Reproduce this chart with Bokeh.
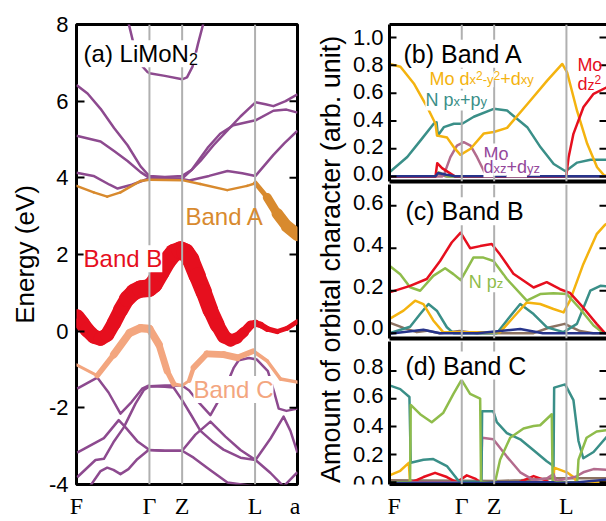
import numpy as np
from bokeh.plotting import figure
from bokeh.models import (Span, Label, LabelSet, LinearAxis, FixedTicker, CustomJSTickFormatter,
                          PrintfTickFormatter, ColumnDataSource, Range1d)
from bokeh.layouts import row, column
from bokeh.embed import file_html
from bokeh.resources import INLINE
from bokeh.core.properties import value

# ---------------- data ----------------
k_labels = ["F", "Γ", "Z", "L", "a"]
k_ticks = [0.0, 0.330, 0.478, 0.808, 1.0]
e_ticks = [-4, -2, 0, 2, 4, 6, 8]

# purple (other) bands: k, E
t0_k = [0.235, 0.258, 0.281, 0.321, 0.33, 0.40, 0.478, 0.50, 0.525, 0.55, 0.575]
t0_e = [8.05, 7.5, 7.02, 6.76, 6.73, 6.66, 6.57, 6.62, 6.9, 7.5, 8.05]
u1_k = [0.0, 0.05, 0.109, 0.17, 0.231, 0.29, 0.321, 0.33, 0.40, 0.478, 0.52, 0.561, 0.62, 0.683, 0.742, 0.81, 0.855, 0.891, 0.946, 1.0]
u1_e = [6.42, 6.2, 5.8, 5.3, 4.85, 4.3, 4.1, 4.05, 4.02, 4.05, 4.2, 4.44, 4.85, 5.24, 5.6, 5.97, 5.92, 5.87, 6.0, 6.18]
u2_k = [0.0, 0.109, 0.17, 0.231, 0.29, 0.33, 0.40, 0.478, 0.52, 0.593, 0.65, 0.71, 0.81, 0.891, 0.95, 1.0]
u2_e = [5.1, 4.95, 4.7, 4.44, 4.15, 4.0, 3.98, 3.98, 4.2, 4.78, 5.15, 5.37, 5.5, 5.75, 5.78, 5.7]
u3_k = [0.0, 0.077, 0.15, 0.186, 0.25, 0.321, 0.33, 0.40, 0.478, 0.51, 0.60, 0.683, 0.75, 0.81, 0.891, 0.94, 1.0]
u3_e = [4.13, 4.05, 3.82, 3.72, 3.82, 3.97, 4.0, 3.97, 3.97, 3.93, 4.05, 4.18, 4.12, 4.05, 4.6, 4.9, 5.23]
p5_k = [0.003, 0.094, 0.145, 0.199, 0.249, 0.297, 0.326, 0.33, 0.40, 0.478, 0.51, 0.546, 0.606, 0.652, 0.69, 0.712, 0.734, 0.78, 0.816, 0.866, 0.895, 0.915, 0.95, 1.0]
p5_e = [-1.50, -1.21, -1.6, -2.15, -1.85, -1.50, -1.42, -1.44, -1.42, -1.42, -1.55, -1.81, -2.19, -1.72, -1.25, -0.95, -0.76, -0.7, -0.74, -1.04, -1.6, -2.02, -2.08, -2.02]
p6_k = [0.003, 0.124, 0.191, 0.222, 0.275, 0.327, 0.33, 0.40, 0.478, 0.538, 0.606, 0.674, 0.742, 0.81, 0.878, 0.937, 0.968, 1.0]
p6_e = [-3.17, -2.79, -2.32, -2.51, -2.87, -3.09, -3.1, -3.12, -3.12, -2.7, -2.36, -2.75, -3.1, -3.36, -2.8, -2.23, -2.6, -3.17]
p7_k = [0.003, 0.086, 0.124, 0.167, 0.214, 0.267, 0.305, 0.33, 0.40, 0.439, 0.478, 0.52, 0.561, 0.62, 0.665, 0.742, 0.81, 0.878, 0.937, 1.0]
p7_e = [-3.81, -3.36, -3.33, -2.9, -2.51, -1.89, -1.53, -1.44, -1.45, -1.47, -1.8, -2.2, -2.6, -2.9, -3.09, -3.3, -3.36, -3.7, -4.05, -3.68]
p8_k = [0.045, 0.063, 0.109, 0.139, 0.167, 0.199, 0.235, 0.275, 0.326, 0.33, 0.40, 0.478, 0.53, 0.60, 0.683, 0.81, 0.88]
p8_e = [-4.2, -4.03, -3.65, -3.56, -3.62, -3.73, -3.6, -3.34, -3.1, -3.1, -3.12, -3.12, -3.3, -3.6, -3.95, -4.05, -4.2]

# fat bands: k, E, orbital weight
bandA_k = [0.0, 0.078, 0.139, 0.199, 0.29, 0.33, 0.478, 0.56, 0.682, 0.772, 0.81, 0.863, 0.908, 0.953, 1.0]
bandA_e = [3.79, 3.62, 3.51, 3.62, 3.92, 3.95, 3.94, 3.84, 3.68, 3.79, 3.86, 3.49, 3.07, 2.73, 2.51]
bandA_w = [0, 0, 0, 0, 0, 0, 0, 0, 0, 0, 0.0, 0.3, 0.5, 0.6, 0.65]
bandB_k = [0.003, 0.026, 0.048, 0.078, 0.109, 0.139, 0.169, 0.199, 0.229, 0.259, 0.29, 0.327,
           0.35, 0.38, 0.41, 0.44, 0.471, 0.493, 0.516, 0.546, 0.576, 0.606, 0.637, 0.667,
           0.697, 0.727, 0.757, 0.787, 0.81, 0.833, 0.863, 0.908, 0.953, 0.998]
bandB_e = [0.376, 0.205, 0.034, -0.137, -0.197, -0.094, 0.205, 0.547, 0.846, 1.017, 1.102, 1.12,
           1.23, 1.53, 1.83, 2.042, 2.11, 2.06, 1.871, 1.444, 1.017, 0.547, 0.162, -0.137,
           -0.24, -0.18, -0.026, 0.162, 0.205, 0.162, 0.06, -0.009, 0.077, 0.247]
bandB_w = [0.39, 0.39, 0.38, 0.37, 0.36, 0.36, 0.37, 0.39, 0.41, 0.44, 0.46, 0.48,
           0.48, 0.48, 0.48, 0.48, 0.48, 0.48, 0.47, 0.45, 0.43, 0.41, 0.38, 0.34,
           0.30, 0.27, 0.23, 0.18, 0.14, 0.12, 0.10, 0.08, 0.07, 0.07]
bandC_k = [0.0, 0.094, 0.169, 0.24, 0.29, 0.33, 0.373, 0.41, 0.44, 0.478, 0.51, 0.53, 0.59, 0.666, 0.727, 0.80, 0.863, 0.923, 1.0]
bandC_e = [-0.88, -1.16, -0.61, -0.05, 0.08, 0.06, -0.35, -1.04, -1.38, -1.42, -1.29, -0.95, -0.59, -0.61, -0.69, -0.52, -0.78, -1.25, -1.33]
bandC_w = [0.0, 0.1, 0.5, 0.55, 0.6, 0.55, 0.5, 0.4, 0.2, 0.0, 0.1, 0.3, 0.4, 0.45, 0.45, 0.15, 0.1, 0.1, 0.1]

# (b) Band A orbital character
b_gold_k = [0.0, 0.05, 0.111, 0.172, 0.21, 0.217, 0.263, 0.294, 0.324, 0.37, 0.431, 0.476, 0.537, 0.629, 0.72, 0.789, 0.811, 0.857, 0.903, 0.948, 0.979, 1.0]
b_gold_v = [0.81, 0.79, 0.67, 0.50, 0.38, 0.295, 0.28, 0.21, 0.156, 0.20, 0.31, 0.32, 0.35, 0.52, 0.69, 0.81, 0.75, 0.47, 0.235, 0.067, 0.01, 0.0]
b_teal_k = [0.0, 0.081, 0.142, 0.202, 0.215, 0.221, 0.248, 0.294, 0.332, 0.385, 0.476, 0.537, 0.629, 0.69, 0.75, 0.804, 0.857, 0.918, 1.0]
b_teal_v = [0.03, 0.14, 0.26, 0.38, 0.39, 0.295, 0.355, 0.38, 0.38, 0.43, 0.487, 0.475, 0.355, 0.21, 0.09, 0.038, 0.10, 0.12, 0.12]
b_mauve_k = [0.0, 0.24, 0.248, 0.278, 0.308, 0.339, 0.37, 0.4, 0.43, 0.445, 1.0]
b_mauve_v = [0, 0, 0.01, 0.139, 0.223, 0.247, 0.223, 0.139, 0.043, 0.0, 0]
b_red_k = [0.0, 0.21, 0.218, 0.24, 0.27, 0.3, 0.807, 0.818, 0.84, 0.886, 0.932, 0.99, 1.0]
b_red_v = [0, 0, 0.096, 0.06, 0.03, 0.0, 0.0, 0.139, 0.307, 0.5, 0.595, 0.64, 0.645]
b_green_k = [0.0, 0.21, 0.225, 0.27, 1.0]
b_green_v = [0, 0, 0.03, 0, 0]
b_brown_k = [0.0, 0.21, 0.222, 0.26, 1.0]
b_brown_v = [0, 0, 0.02, 0.0, 0]
b_navy_k = [0.0, 0.21, 0.222, 0.26, 0.3, 1.0]
b_navy_v = [0.002, 0.002, 0.025, 0.012, 0.002, 0.002]

# (c) Band B orbital character
c_red_k = [0.0, 0.094, 0.17, 0.231, 0.284, 0.325, 0.368, 0.414, 0.467, 0.505, 0.566, 0.658, 0.718, 0.779, 0.824, 0.885, 0.946, 0.984, 1.0]
c_red_v = [0.192, 0.223, 0.255, 0.34, 0.427, 0.473, 0.40, 0.41, 0.42, 0.37, 0.28, 0.215, 0.24, 0.207, 0.19, 0.12, 0.044, 0.0, 0.0]
c_green_k = [0.0, 0.049, 0.094, 0.14, 0.2, 0.254, 0.292, 0.325, 0.353, 0.383, 0.429, 0.475, 0.536, 0.627, 0.688, 0.749, 0.81, 0.871, 0.932, 0.978, 1.0]
c_green_v = [0.317, 0.278, 0.216, 0.2, 0.27, 0.306, 0.278, 0.25, 0.30, 0.356, 0.356, 0.34, 0.255, 0.153, 0.184, 0.1875, 0.184, 0.114, 0.036, 0.0, 0.0]
c_gold_k = [0.0, 0.064, 0.117, 0.155, 0.2, 0.245, 0.505, 0.566, 0.627, 0.688, 0.749, 0.795, 0.824, 0.885, 0.946, 0.984, 1.0]
c_gold_v = [0.067, 0.106, 0.153, 0.137, 0.06, 0.005, 0.005, 0.075, 0.145, 0.1375, 0.114, 0.098, 0.153, 0.325, 0.466, 0.51, 0.52]
c_teal_k = [0.0, 0.094, 0.14, 0.178, 0.216, 0.262, 0.292, 0.49, 0.536, 0.597, 0.658, 0.718, 0.795, 0.856, 0.917, 0.963, 1.0]
c_teal_v = [0.0, 0.03, 0.09, 0.1375, 0.106, 0.028, 0.0, 0.0, 0.06, 0.1375, 0.09, 0.028, 0.005, 0.044, 0.2, 0.223, 0.22]
c_brown_k = [0.0, 0.064, 0.125, 0.17, 0.23, 0.32, 0.4, 0.658, 0.734, 0.8, 0.87, 0.93, 1.0]
c_brown_v = [0.05, 0.025, 0.005, 0.012, 0.0, 0.01, 0.0, 0.0, 0.028, 0.044, 0.01, 0.0, 0.0]
c_navy_k = [0.0, 0.155, 0.23, 0.4, 0.597, 0.7, 1.0]
c_navy_v = [-0.003, 0.016, 0.0, 0.0, 0.02, 0.0, 0.0]

# (d) Band C orbital character
d_teal_k = [0.0, 0.049, 0.091, 0.097, 0.155, 0.2, 0.262, 0.307, 0.32, 0.42, 0.423, 0.474, 0.49, 0.536, 0.597, 0.658, 0.718, 0.749, 0.752, 0.802, 0.84, 0.863, 0.885, 0.932, 1.0]
d_teal_v = [0.696, 0.669, 0.613, 0.14, 0.162, 0.167, 0.117, 0.027, 0.004, 0.004, 0.511, 0.511, 0.432, 0.354, 0.309, 0.23, 0.151, 0.117, 0.68, 0.703, 0.59, 0.297, 0.173, 0.218, 0.342]
d_green_k = [0.0, 0.094, 0.097, 0.14, 0.193, 0.246, 0.292, 0.329, 0.368, 0.414, 0.418, 0.482, 0.505, 0.551, 0.612, 0.658, 0.688, 0.741, 0.745, 0.857, 0.863, 0.9, 0.946, 1.0]
d_green_v = [0, 0, 0.556, 0.489, 0.432, 0.5, 0.635, 0.736, 0.635, 0.601, 0, 0, 0.162, 0.32, 0.387, 0.405, 0.41, 0.489, 0, 0, 0.162, 0.32, 0.365, 0.376]
d_gold_k = [0.0, 0.049, 0.088, 0.094, 0.749, 0.752, 0.81, 0.84, 0.857, 1.0]
d_gold_v = [0.05, 0.083, 0.14, 0.0, 0.0, 0.106, 0.072, 0.038, 0.0, 0.0]
d_red_k = [0.0, 0.1, 0.155, 0.208, 0.262, 0.307, 0.353, 0.391, 0.414, 0.59, 0.658, 0.71, 0.73, 1.0]
d_red_v = [0, 0, 0.038, 0.068, 0.038, 0.0, 0.05, 0.027, 0.0, 0.0, 0.045, 0.016, 0.0, 0.0]
d_mauve_k = [0.0, 0.418, 0.423, 0.474, 0.536, 0.597, 0.658, 0.718, 0.749, 0.76, 0.85, 0.885, 0.932, 1.0]
d_mauve_v = [0, 0, 0.32, 0.309, 0.185, 0.072, 0.016, 0.027, 0.06, 0.01, 0.04, 0.072, 0.095, 0.09]
d_brown_k = [0.0, 0.5, 0.6, 0.749, 1.0]
d_brown_v = [0.015, 0.01, 0.015, 0.03, 0.03]
d_navy_k = [0.0, 0.42, 0.5, 0.75, 0.76, 0.86, 1.0]
d_navy_v = [-0.005, -0.005, 0.0, 0.0, -0.005, 0.0, 0.02]

b_ticks = [0, 0.2, 0.4, 0.6, 0.8, 1.0]
c_ticks = [0, 0.2, 0.4, 0.6]
d_ticks = [0, 0.2, 0.4, 0.6, 0.8]

# ---------------- styles ----------------
FONT = "Liberation Sans"
SERIF = "Liberation Serif"
PURPLE = "#8d4a8f"
ORANGE = "#d88a2e"
RED = "#e60f1e"
SALMON = "#f3a67f"
GOLD = "#f4b30f"
TEAL = "#3a8f88"
GREEN = "#8fbc4b"
MAUVE = "#b36b8d"
BROWN = "#8c7262"
NAVY = "#27348b"
LBL_PURPLE = "#93479b"
GRAY = "#b0b0b0"

W = {' ': .278, '(': .333, ')': .333, '+': .584, '-': .333, '.': .278, 'A': .667, 'B': .667,
     'C': .722, 'L': .556, 'M': .833, 'N': .722, 'a': .556, 'b': .556, 'c': .5, 'd': .556,
     'i': .222, 'n': .556, 'o': .556, 'p': .556, 'x': .5, 'y': .5, 'z': .5}


def twidth(s, size):
    return sum(W.get(ch, 0.556) for ch in s) * size


def rich(p, x, y, pieces, color, bg=None):
    off = 0.0
    for txt, size, dy in pieces:
        p.add_layout(Label(x=x, y=y, x_offset=off, y_offset=dy, text=txt,
                           text_font=FONT, text_font_size=f"{size}px", text_color=color,
                           text_align="left", text_baseline="alphabetic",
                           background_fill_color=bg))
        off += twidth(txt, size)


def fat(p, k, e, w, color, base, scale):
    k = np.asarray(k, float); e = np.asarray(e, float); w = np.asarray(w, float)
    src = ColumnDataSource(dict(x0=k[:-1], y0=e[:-1], x1=k[1:], y1=e[1:],
                                lw=base + scale * (w[:-1] + w[1:]) / 2))
    p.segment('x0', 'y0', 'x1', 'y1', source=src, line_width='lw', line_color=color,
              line_cap='round')


def inner_ticks(p, x, ticks, length, angle):
    p.ray(x=[x] * len(ticks), y=ticks, length=length, length_units="screen",
          angle=angle, line_color="black", line_width=2)


def kformatter():
    return CustomJSTickFormatter(args=dict(labels=k_labels, tv=k_ticks), code="""
        let b = 0;
        for (let j = 0; j < tv.length; j++) { if (Math.abs(tv[j]-tick) < Math.abs(tv[b]-tick)) b = j; }
        return labels[b];
    """)

# ---------------- panel (a) ----------------
TOP, BOT = 24, 29
pa = figure(width=300, height=521, x_range=Range1d(0, 1), y_range=Range1d(-4, 8),
            output_backend="svg", toolbar_location=None,
            min_border_left=76, min_border_right=3, min_border_top=TOP, min_border_bottom=BOT)
pa.grid.visible = False
pa.outline_line_color = "black"
pa.outline_line_width = 3
pa.yaxis.ticker = FixedTicker(ticks=e_ticks)
pa.yaxis.formatter = PrintfTickFormatter(format="%d")
pa.yaxis.major_tick_in = 8
pa.yaxis.major_tick_out = 0
pa.yaxis.major_tick_line_width = 2
pa.yaxis.minor_tick_line_color = None
pa.yaxis.axis_line_color = None
pa.yaxis.major_label_text_font = FONT
pa.yaxis.major_label_text_font_size = "22px"
pa.yaxis.major_label_text_color = "black"
pa.yaxis.major_label_standoff = 8
pa.yaxis.axis_label = "Energy (eV)"
pa.yaxis.axis_label_text_font = FONT
pa.yaxis.axis_label_text_font_size = "26px"
pa.yaxis.axis_label_text_font_style = "normal"
pa.yaxis.axis_label_text_color = "black"
pa.yaxis.axis_label_standoff = 6
pa.xaxis.ticker = FixedTicker(ticks=k_ticks)
pa.xaxis.formatter = kformatter()
pa.xaxis.major_tick_line_color = None
pa.xaxis.minor_tick_line_color = None
pa.xaxis.axis_line_color = None
pa.xaxis.major_label_text_font = SERIF
pa.xaxis.major_label_text_font_size = "24px"
pa.xaxis.major_label_text_color = "black"
pa.xaxis.major_label_standoff = 2

for t in k_ticks[1:4]:
    pa.add_layout(Span(location=t, dimension="height", line_color=GRAY, line_width=2))

for kk, ee in [(t0_k, t0_e), (u1_k, u1_e), (u2_k, u2_e), (u3_k, u3_e), (p5_k, p5_e),
               (p6_k, p6_e), (p7_k, p7_e), (p8_k, p8_e)]:
    pa.line(kk, ee, line_color=PURPLE, line_width=2.5, line_join="round")

fat(pa, bandA_k, bandA_e, bandA_w, ORANGE, 2.5, 16)
fat(pa, bandC_k, bandC_e, bandC_w, SALMON, 2.5, 10)
fat(pa, bandB_k, bandB_e, bandB_w, RED, 2.5, 32)
inner_ticks(pa, 1.0, e_ticks, 8, np.pi)

rich(pa, 0.032, 7.24, [("(a) LiMoN", 24, 0), ("2", 16, -5)], "black", bg="white")
pa.add_layout(Label(x=0.493, y=2.98, text="Band A", text_font=FONT, text_font_size="24px",
                    text_color=ORANGE, text_baseline="alphabetic"))
pa.add_layout(Label(x=0.032, y=1.89, text="Band B", text_font=FONT, text_font_size="24px",
                    text_color=RED, text_baseline="alphabetic", background_fill_color="white"))
pa.add_layout(Label(x=0.529, y=-1.52, text="Band C", text_font=FONT, text_font_size="24px",
                    text_color=SALMON, text_baseline="alphabetic", background_fill_color="white"))

# ---------------- right panels geometry ----------------
XR_END = 0.991
RW = 219          # width of right panels (incl. 2 px left border)
RB_LEFT = 2
GEOM = {  # top border, frame height, bottom border, y-range
    "b": dict(top=24, h=157, bottom=3, ymin=-0.036, ymax=1.094, ticks=b_ticks),
    "c": dict(top=0, h=154, bottom=3, ymin=-0.025, ymax=0.70, ticks=c_ticks),
    "d": dict(top=0, h=152, bottom=28, ymin=-0.0155, ymax=1.011, ticks=d_ticks),
}


def mk_right(g, show_top, show_x):
    height = g["top"] + g["h"] + g["bottom"]
    p = figure(width=RW, height=height, x_range=Range1d(0, XR_END),
               y_range=Range1d(g["ymin"], g["ymax"]),
               output_backend="svg", toolbar_location=None, x_axis_location=None,
               y_axis_location=None, min_border_left=RB_LEFT, min_border_right=0,
               min_border_top=g["top"], min_border_bottom=g["bottom"])
    p.grid.visible = False
    p.outline_line_color = None
    la = LinearAxis(ticker=FixedTicker(ticks=[]), axis_line_width=3,
                    major_tick_line_color=None, minor_tick_line_color=None, major_label_standoff=0)
    p.add_layout(la, "left")
    if show_top:
        ta = LinearAxis(ticker=FixedTicker(ticks=[]), axis_line_width=3,
                        major_tick_line_color=None, minor_tick_line_color=None,
                        major_label_standoff=0)
        p.add_layout(ta, "above")
    if show_x:
        ba = LinearAxis(ticker=FixedTicker(ticks=k_ticks[:4]), formatter=kformatter(),
                        axis_line_width=3, major_tick_line_color=None, minor_tick_line_color=None,
                        major_label_text_font=SERIF, major_label_text_font_size="24px",
                        major_label_text_color="black", major_label_standoff=2)
    else:
        ba = LinearAxis(ticker=FixedTicker(ticks=[]), axis_line_width=4,
                        major_tick_line_color=None, minor_tick_line_color=None,
                        major_label_standoff=0)
    p.add_layout(ba, "below")
    for t in k_ticks[1:4]:
        p.add_layout(Span(location=t, dimension="height", line_color=GRAY, line_width=2))
    return p


def draw(p, series, g):
    for kk, vv, col in series:
        p.line(kk, vv, line_color=col, line_width=2.5, line_join="round")
    inner_ticks(p, 0.0, g["ticks"], 7, 0.0)
    inner_ticks(p, XR_END, g["ticks"], 7, np.pi)


pb = mk_right(GEOM["b"], True, False)
draw(pb, [(b_brown_k, b_brown_v, BROWN), (b_green_k, b_green_v, GREEN),
          (b_mauve_k, b_mauve_v, MAUVE), (b_teal_k, b_teal_v, TEAL),
          (b_gold_k, b_gold_v, GOLD), (b_red_k, b_red_v, RED), (b_navy_k, b_navy_v, NAVY)],
     GEOM["b"])
pb.add_layout(Label(x=0.064, y=0.883, text="(b) Band A", text_font=FONT, text_font_size="25px",
                    text_color="black", text_baseline="alphabetic", background_fill_color="white"))
rich(pb, 0.183, 0.703, [("Mo d", 18, 0), ("x", 13, -1), ("2", 12, 3), ("-y", 13, -1),
                        ("2", 12, 3), ("+d", 18, 0), ("xy", 13, -1)], GOLD, bg="white")
rich(pb, 0.164, 0.547, [("N p", 18, 0), ("x", 13, -1), ("+p", 18, 0), ("y", 13, -1)], TEAL,
     bg="white")
rich(pb, 0.429, 0.165, [("Mo", 18, 0)], LBL_PURPLE, bg="white")
rich(pb, 0.429, 0.067, [("d", 18, 0), ("xz", 13, -1), ("+d", 18, 0), ("yz", 13, -1)], LBL_PURPLE,
     bg="white")
rich(pb, 0.858, 0.80, [("Mo", 18, 0)], RED)
rich(pb, 0.858, 0.667, [("d", 18, 0), ("z", 14, -1), ("2", 12, 4)], RED)

pc = mk_right(GEOM["c"], False, False)
draw(pc, [(c_brown_k, c_brown_v, BROWN), (c_teal_k, c_teal_v, TEAL), (c_gold_k, c_gold_v, GOLD),
          (c_green_k, c_green_v, GREEN), (c_red_k, c_red_v, RED), (c_navy_k, c_navy_v, NAVY)],
     GEOM["c"])
pc.add_layout(Label(x=0.073, y=0.574, text="(c) Band B", text_font=FONT, text_font_size="25px",
                    text_color="black", text_baseline="alphabetic", background_fill_color="white"))
rich(pc, 0.362, 0.24, [("N p", 18, 0), ("z", 13, -1)], GREEN, bg="white")

pd = mk_right(GEOM["d"], False, True)
draw(pd, [(d_brown_k, d_brown_v, BROWN), (d_red_k, d_red_v, RED), (d_gold_k, d_gold_v, GOLD),
          (d_mauve_k, d_mauve_v, MAUVE), (d_teal_k, d_teal_v, TEAL),
          (d_green_k, d_green_v, GREEN), (d_navy_k, d_navy_v, NAVY)], GEOM["d"])
pd.add_layout(Label(x=0.073, y=0.838, text="(d) Band C", text_font=FONT, text_font_size="25px",
                    text_color="black", text_baseline="alphabetic", background_fill_color="white"))
pd.add_layout(Label(x=XR_END, y=-0.03, text=k_labels[4], text_font=SERIF, text_font_size="24px",
                    text_color="black", text_align="right", text_baseline="top"))

# ---------------- label strip (axis title + tick labels of right panels) ----------------
# its frame is aligned with panel (a)'s frame: y data units equal page pixels
SW = 87
plab = figure(width=SW, height=521, x_range=Range1d(0, SW), y_range=Range1d(521 - BOT, TOP),
              output_backend="svg", toolbar_location=None, min_border_left=0,
              min_border_right=0, min_border_top=TOP, min_border_bottom=BOT,
              x_axis_location=None, y_axis_location=None)
plab.grid.visible = False
plab.outline_line_color = None
plab.add_layout(Label(x=30, y=263, text="Amount of orbital character (arb. unit)",
                      angle=np.pi / 2, text_align="center", text_baseline="middle",
                      text_font=FONT, text_font_size="27px", text_color="black"))
ty, tt = [], []
y0 = 0
for key in ["b", "c", "d"]:
    g = GEOM[key]
    ftop = y0 + g["top"]
    for v in g["ticks"]:
        ty.append(ftop + (g["ymax"] - v) / (g["ymax"] - g["ymin"]) * g["h"])
        tt.append("%.1f" % v)
    y0 += g["top"] + g["h"] + g["bottom"]
tick_src = ColumnDataSource(dict(x=[SW - 4] * len(ty), y=ty, text=tt))
plab.add_layout(LabelSet(x="x", y="y", text="text", source=tick_src, text_align="right",
                         text_baseline="middle", text_font=value(FONT),
                         text_font_size="22px", text_color="black"))

layout = row(pa, plab, column(pb, pc, pd))
open("out.html", "w").write(file_html(layout, INLINE))
